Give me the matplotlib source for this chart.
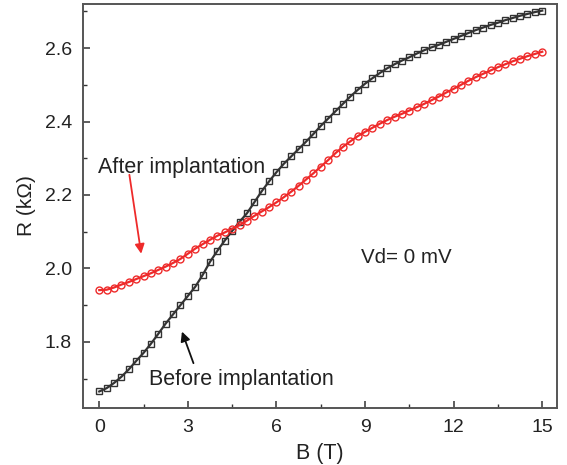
import numpy as np
import matplotlib
matplotlib.use('Agg')
import matplotlib.pyplot as plt
from matplotlib.ticker import MultipleLocator

plt.rcParams['font.family'] = ['Liberation Sans', 'DejaVu Sans']

# field (T), sampled every 0.25 T
b_field = np.arange(0, 15.01, 0.25)

# before implantation (black squares), kOhm
r_before = [1.665, 1.674, 1.688, 1.705, 1.725, 1.748, 1.770, 1.795, 1.822, 1.850,
            1.875, 1.900, 1.925, 1.950, 1.982, 2.018, 2.048, 2.076, 2.102, 2.127,
            2.150, 2.180, 2.210, 2.237, 2.262, 2.285, 2.305, 2.325, 2.345, 2.366,
            2.388, 2.408, 2.428, 2.448, 2.468, 2.486, 2.503, 2.518, 2.532, 2.545,
            2.556, 2.566, 2.575, 2.585, 2.594, 2.602, 2.609, 2.617, 2.625, 2.633,
            2.641, 2.649, 2.656, 2.663, 2.669, 2.676, 2.682, 2.688, 2.693, 2.698,
            2.702]

# after implantation (red circles), kOhm
r_after = [1.941, 1.942, 1.948, 1.956, 1.963, 1.971, 1.979, 1.987, 1.996, 2.005,
           2.015, 2.026, 2.040, 2.054, 2.066, 2.078, 2.089, 2.098, 2.108, 2.118,
           2.130, 2.143, 2.155, 2.167, 2.180, 2.194, 2.209, 2.225, 2.242, 2.259,
           2.277, 2.295, 2.314, 2.331, 2.346, 2.360, 2.372, 2.383, 2.394, 2.404,
           2.413, 2.421, 2.430, 2.439, 2.448, 2.458, 2.468, 2.479, 2.489, 2.500,
           2.511, 2.521, 2.530, 2.539, 2.548, 2.556, 2.564, 2.571, 2.578, 2.584,
           2.590]

x_ticks = [0, 3, 6, 9, 12, 15]
y_ticks = [1.8, 2.0, 2.2, 2.4, 2.6]

fig = plt.figure(figsize=(5.67, 4.65), dpi=100)
ax = fig.add_axes([0.1464, 0.1226, 0.836, 0.8688])

ax.plot(b_field, r_before, color='#333333', lw=1.6, marker='s', ms=5,
        mfc='none', mec='#333333', mew=1.0)
ax.plot(b_field, r_after, color='#ee2a2a', lw=1.6, marker='o', ms=5,
        mfc='none', mec='#ee2a2a', mew=1.0)

ax.set_xlim(-0.55, 15.5)
ax.set_ylim(1.62, 2.72)
ax.set_xticks(x_ticks)
ax.set_yticks(y_ticks)
ax.set_yticklabels(['1.8', '2.0', '2.2', '2.4', '2.6'])
ax.xaxis.set_minor_locator(MultipleLocator(1.5))
ax.yaxis.set_minor_locator(MultipleLocator(0.1))
ax.tick_params(which='both', direction='in', top=False, right=False,
               color='#333333', labelsize=14, labelcolor='#222222')
ax.tick_params(which='major', length=5, width=1.1, pad=8)
ax.tick_params(which='minor', length=3, width=1.0)
for s in ax.spines.values():
    s.set_color('#555555')
    s.set_linewidth(1.4)

ax.set_xlabel('B (T)', fontsize=15.5, color='#222222', labelpad=5)
ax.set_ylabel('R (k\u03a9)', fontsize=15, color='#222222', labelpad=6)

ax.text(-0.05, 2.275, 'After implantation', fontsize=15.5, color='#222222',
        ha='left', va='center')
ax.annotate('', xy=(1.42, 2.04), xytext=(1.02, 2.255),
            arrowprops=dict(arrowstyle='-|>', color='#ee2a2a', lw=1.3,
                            mutation_scale=14, shrinkA=0, shrinkB=0))

ax.text(1.69, 1.697, 'Before implantation', fontsize=15.5, color='#222222',
        ha='left', va='center')
ax.annotate('', xy=(2.80, 1.828), xytext=(3.19, 1.742),
            arrowprops=dict(arrowstyle='-|>', color='#111111', lw=1.3,
                            mutation_scale=14, shrinkA=0, shrinkB=0))

ax.text(8.85, 2.031, 'Vd= 0 mV', fontsize=14.8, color='#222222',
        ha='left', va='center')

fig.savefig('out.png', dpi=100)
